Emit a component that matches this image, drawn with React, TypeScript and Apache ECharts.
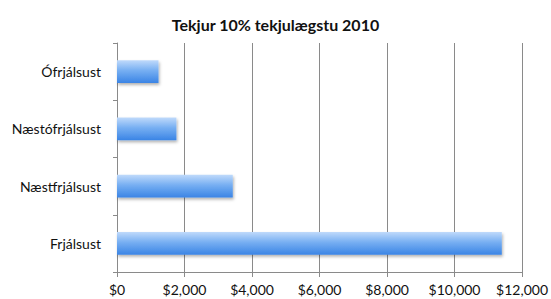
import React, { useEffect, useRef } from "react";
import * as echarts from "echarts";

const titleText = "Tekjur 10% tekjulægstu 2010";
const categories = ["Ófrjálsust", "Næstófrjálsust", "Næstfrjálsust", "Frjálsust"];
const values = [1230, 1760, 3430, 11400];
const axisMin = 0;
const axisMax = 12000;
const axisStep = 2000;

const fmt = (v: number) => "$" + v.toLocaleString("en-US");

export default function App() {
  const ref = useRef<HTMLDivElement>(null);
  useEffect(() => {
    if (!ref.current) return;
    const chart = echarts.init(ref.current, null, { renderer: "svg" });
    const font = "Lato, 'Open Sans', sans-serif";
    chart.setOption({
      animation: false,
      backgroundColor: "#ffffff",
      title: {
        text: titleText,
        left: "center",
        top: 11,
        textStyle: { fontFamily: font, fontSize: 16, fontWeight: "bold", color: "#111" },
      },
      grid: { left: 117, right: 25, top: 43, bottom: 27, containLabel: false },
      xAxis: {
        type: "value",
        min: axisMin,
        max: axisMax,
        interval: axisStep,
        axisLine: { show: true, lineStyle: { color: "#8a8a8a", width: 1 } },
        axisTick: { show: true, length: 5, lineStyle: { color: "#8a8a8a" } },
        splitLine: { show: true, lineStyle: { color: "#8a8a8a", width: 1 } },
        axisLabel: {
          formatter: (v: number) => fmt(v),
          fontFamily: font,
          fontSize: 14,
          color: "#111",
          margin: 10,
        },
      },
      yAxis: {
        type: "category",
        data: categories,
        inverse: true,
        axisLine: { show: true, lineStyle: { color: "#8a8a8a", width: 1 } },
        axisTick: { show: true, length: 4, lineStyle: { color: "#8a8a8a" } },
        splitLine: { show: false },
        axisLabel: { fontFamily: font, fontSize: 14, color: "#111", margin: 16 },
      },
      series: [
        {
          type: "bar",
          data: values,
          barWidth: "40%",
          itemStyle: {
            color: new echarts.graphic.LinearGradient(0, 0, 0, 1, [
              { offset: 0, color: "#c0dafb" },
              { offset: 0.45, color: "#77aff2" },
              { offset: 1, color: "#3a84e5" },
            ]),
            shadowColor: "rgba(0,0,0,0.3)",
            shadowBlur: 3,
            shadowOffsetX: 1,
            shadowOffsetY: 2,
          },
        },
      ],
    });
    return () => chart.dispose();
  }, []);
  return (
    <div
      ref={ref}
      style={{ position: "absolute", left: 0, top: 0, width: 551, height: 299 }}
    />
  );
}
